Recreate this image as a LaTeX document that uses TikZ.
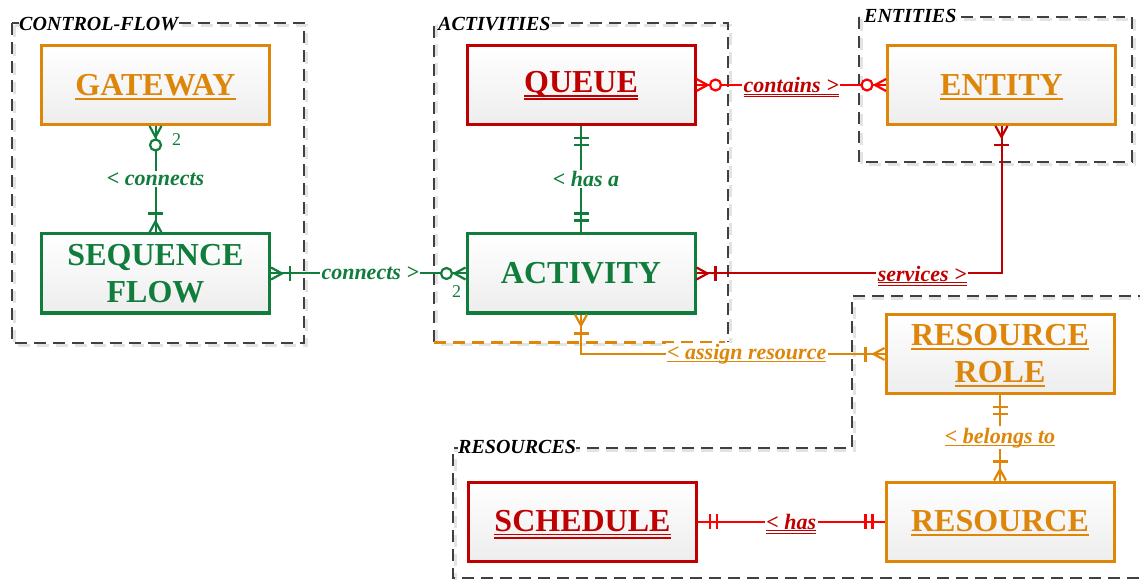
\documentclass[tikz,border=0pt]{standalone}
\usepackage{fontspec}
\setmainfont{Liberation Serif}
\usetikzlibrary{calc}
\definecolor{cgreen}{RGB}{16,125,60}
\definecolor{corange}{RGB}{222,134,10}
\definecolor{cdred}{RGB}{192,0,0}
\definecolor{cred}{RGB}{255,0,0}
\definecolor{cdash}{RGB}{64,64,64}
\newcommand\myul[1]{\setbox0=\hbox{#1}\rlap{\smash{\rule[-0.13em]{\wd0}{0.06em}}}\box0}
\newcommand\myuul[1]{\setbox0=\hbox{#1}\rlap{\smash{\rule[-0.11em]{\wd0}{0.045em}}}\rlap{\smash{\rule[-0.21em]{\wd0}{0.045em}}}\box0}
\tikzset{
  entbox/.style={line width=3pt, minimum width=228pt, minimum height=79pt,
    top color=white, bottom color=gray!14, align=center, inner sep=0pt,
    font=\fontsize{32}{37}\selectfont\bfseries},
  rel/.style={line width=2pt},
  lab/.style={fill=white, inner sep=1.5pt, font=\fontsize{22}{24}\selectfont\bfseries\itshape},
  grplab/.style={fill=white, inner sep=0pt, anchor=base west, font=\fontsize{20}{21}\selectfont\bfseries\itshape},
  grpline/.style={draw=cdash, line width=2.2pt, dash pattern=on 12pt off 7pt},
  grpshadow/.style={draw=gray!22, line width=2.2pt, dash pattern=on 12pt off 7pt},
  numlab/.style={font=\fontsize{18}{20}\selectfont, inner sep=0pt},
  ce/.style={line width=2.2pt},
  pics/zmany/.style={code={\draw[ce] (0,6)--(11,0)--(0,-6); \draw[ce, fill=white] (19,0) circle[radius=5.5pt];}},
  pics/omany/.style={code={\draw[ce] (0,6)--(11,0)--(0,-6); \draw[ce] (19,-7.5)--(19,7.5);}},
  pics/oone/.style={code={\draw[ce] (12,-7.5)--(12,7.5); \draw[ce] (19,-7.5)--(19,7.5);}},
}
\begin{document}
\begin{tikzpicture}[x=1pt,y=1pt]
\useasboundingbox (0,0) rectangle (1140,579);
% group shadows
\draw[grpshadow] (14.5,553.5) rectangle (306.5,233.5);
\draw[grpshadow] (436.5,553.5) rectangle (730.5,234.5);
\draw[grpshadow] (861.5,559.5) rectangle (1134.5,414.5);
\draw[grpshadow] (1150,280.5) -- (854.5,280.5) -- (854.5,128.5) -- (455.5,128.5) -- (455.5,-2);
% groups
\draw[grpline] (12,556) rectangle (304,236);
\draw[grpline] (434,237) -- (434,556) -- (728,556) -- (728,237);
\draw[line width=2.2pt, draw=corange, dash pattern=on 12pt off 7pt] (434,236.5) -- (725,236.5);
\draw[grpline] (859,562) rectangle (1132,417);
\draw[grpline] (1150,283) -- (852,283) -- (852,131) -- (453,131) -- (453,1.3) -- (1150,1.3);
\node[grplab] (gcf) at (19,548) {CONTROL-FLOW};
\node[grplab] (gact) at (438,548) {ACTIVITIES};
\node[grplab] (gent) at (864,556) {ENTITIES};
\node[grplab] (gres) at (458,126) {RESOURCES};
% entities
\node[entbox, draw=corange, text=corange] (gw) at (155.5,494) {\myul{GATEWAY}};
\node[entbox, draw=cgreen, text=cgreen] (seq) at (155.5,305.5) {SEQUENCE\\FLOW};
\node[entbox, draw=cdred, text=cdred] (queue) at (581,494) {\myuul{QUEUE}};
\node[entbox, draw=cgreen, text=cgreen] (act) at (581,305.5) {ACTIVITY};
\node[entbox, draw=corange, text=corange] (ent) at (1001.5,494) {\myul{ENTITY}};
\node[entbox, draw=corange, text=corange] (rr) at (1000,225) {\myul{RESOURCE}\\\myul{ROLE}};
\node[entbox, draw=corange, text=corange] (res) at (1000,57.5) {\myul{RESOURCE}};
\node[entbox, draw=cdred, text=cdred] (sch) at (582.5,57.5) {\myuul{SCHEDULE}};
% connectors
\draw[rel, cgreen] (gw.south) -- node[lab, text=cgreen] {< connects} (seq.north);
\draw[rel, cgreen] (seq.east) -- node[lab, text=cgreen, xshift=2pt] {connects >} (act.west);
\draw[rel, cgreen] (queue.south) -- node[lab, text=cgreen, xshift=5pt] {< has a} (act.north);
\draw[rel, cred] (queue.east) -- node[lab, text=cdred] {\myuul{contains >}} (ent.west);
\draw[rel, cdred] (act.east) -| node[lab, text=cdred, pos=0.37] {\myuul{services >}} (ent.south);
\draw[rel, corange] (act.south) |- node[lab, text=corange, pos=0.773] {\myul{< assign resource}} (rr.west);
\draw[rel, corange] (rr.south) -- node[lab, text=corange] {\myul{< belongs to}} (res.north);
\draw[rel, cred] (sch.east) -- node[lab, text=cdred] {\myuul{< has}} (res.west);
% cardinality ends
\pic[color=cgreen, rotate=-90] at (gw.south) {zmany};
\pic[color=cgreen, rotate=90] at (seq.north) {omany};
\pic[color=cgreen] at (seq.east) {omany};
\pic[color=cgreen, rotate=180] at (act.west) {zmany};
\pic[color=cgreen, rotate=-90] at (queue.south) {oone};
\pic[color=cgreen, rotate=90] at (act.north) {oone};
\pic[color=cred] at (queue.east) {zmany};
\pic[color=cred, rotate=180] at (ent.west) {zmany};
\pic[color=cdred] at (act.east) {omany};
\pic[color=cdred, rotate=-90] at (ent.south) {omany};
\pic[color=corange, rotate=-90] at (act.south) {omany};
\pic[color=corange, rotate=180] at (rr.west) {omany};
\pic[color=corange, rotate=-90] at (rr.south) {oone};
\pic[color=corange, rotate=90] at (res.north) {omany};
\pic[color=cred] at (sch.east) {oone};
\pic[color=cred, rotate=180] at (res.west) {oone};
\node[numlab, text=cgreen] (n1) at (176.5,439) {2};
\node[numlab, text=cgreen] (n2) at (456.5,287.5) {2};
\end{tikzpicture}
\end{document}
